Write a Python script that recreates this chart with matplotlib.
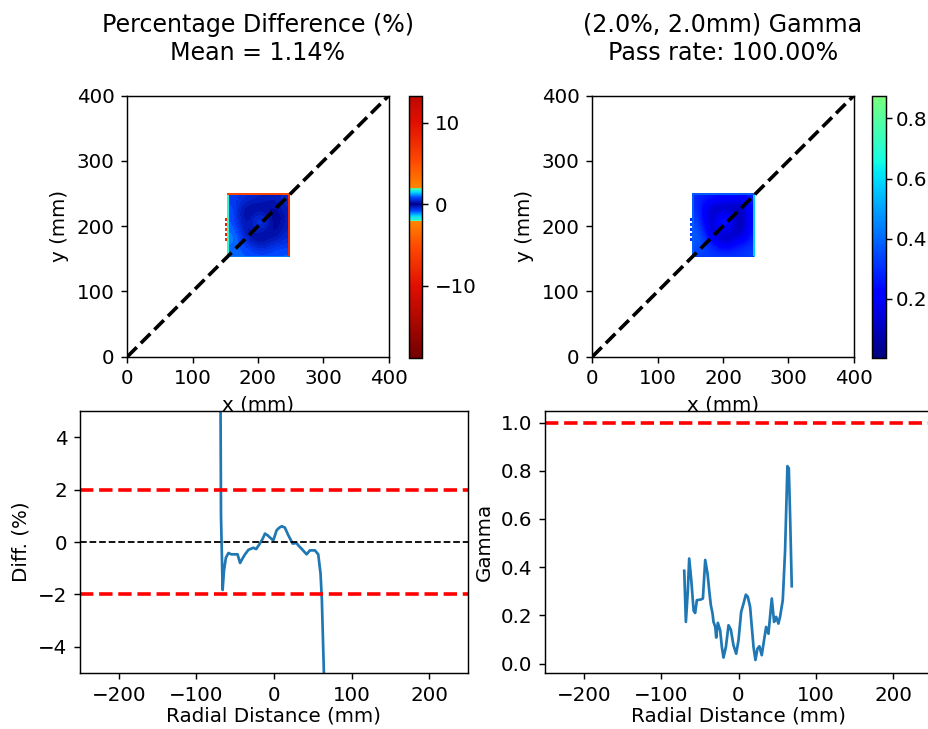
import matplotlib
matplotlib.use("Agg")
import matplotlib.pyplot as plt
import numpy as np
from matplotlib.colors import LinearSegmentedColormap

plt.rcParams["font.size"] = 11

# summary numbers
mean_diff = 1.14
pass_rate = 100.00
dose_crit, dist_crit = 2.0, 2.0
diff_tol = 2.0

# percentage difference map (inside of the field, rows top -> bottom)
diff_grid = [
    [0.7, 0.6, 0.5, 0.4, 0.4, 0.3, 0.3, 0.5],
    [0.8, 0.4, 0.2, 0.1, 0.1, 0.1, 0.2, 0.4],
    [0.9, 0.3, 0.1, 0.3, 0.4, 0.1, 0.0, 0.3],
    [0.9, 0.4, 0.2, 0.6, 0.7, 0.2, 0.0, 0.3],
    [1.0, 0.6, 0.1, 0.4, 0.3, 0.1, 0.1, 0.4],
    [1.1, 0.8, 0.3, 0.1, 0.1, 0.2, 0.3, 0.5],
    [1.0, 0.9, 0.7, 0.4, 0.3, 0.5, 0.6, 0.7],
    [0.9, 0.9, 0.9, 0.8, 0.8, 0.8, 0.9, 0.9],
]
diff_edges = {"top": 5.5, "right": 7.5, "left": 1.8, "bottom": 1.1}
diff_left_dots = [8, np.nan, 9, np.nan, 7, np.nan, 9, np.nan, 8]
diff_range = (-18.8, 13.3)

# gamma map (rows top -> bottom)
gamma_grid = [
    [0.29, 0.27, 0.25, 0.23, 0.23, 0.21, 0.21, 0.27],
    [0.30, 0.20, 0.13, 0.10, 0.10, 0.10, 0.12, 0.25],
    [0.32, 0.18, 0.10, 0.18, 0.21, 0.10, 0.09, 0.23],
    [0.34, 0.21, 0.12, 0.28, 0.29, 0.12, 0.09, 0.23],
    [0.36, 0.26, 0.10, 0.21, 0.18, 0.10, 0.10, 0.25],
    [0.38, 0.31, 0.18, 0.10, 0.10, 0.14, 0.18, 0.27],
    [0.36, 0.33, 0.28, 0.21, 0.18, 0.25, 0.27, 0.30],
    [0.33, 0.33, 0.31, 0.30, 0.30, 0.30, 0.31, 0.33],
]
gamma_edges = {"top": 0.38, "right": 0.58, "left": 0.38, "bottom": 0.32}
gamma_left_dots = [0.3, np.nan, 0.35, np.nan, 0.3, np.nan, 0.32, np.nan, 0.3]
gamma_range = (0.005, 0.875)

# diagonal profiles
diff_x = [-69.5, -69.0, -68.3, -66.2, -64.5, -62, -58.7, -55, -52.3, -47, -43.7, -40,
          -37.3, -33, -29, -26.6, -23, -18.9, -15, -11.6, -8, -6, -0.9, 3.4, 7, 9.9,
          14, 18.4, 24, 29, 32, 35.6, 42, 46.3, 52.7, 57, 60, 61.7, 64.3, 65.5]
diff_y = [25, 6, 1.0, -1.83, -1.1, -0.6, -0.42, -0.47, -0.47, -0.47, -0.8, -0.6,
          -0.47, -0.3, -0.25, -0.22, -0.27, -0.09, 0.1, 0.32, 0.25, 0.19, 0.06, 0.45, 0.55, 0.6,
          0.55, 0.26, -0.06, -0.04, -0.15, -0.26, -0.47, -0.32, -0.32, -0.47, -1.21, -2.23, -5.0, -20]

gamma_x = [-70.1, -68, -65.5, -63.7, -61, -58, -56, -53.8, -48.6, -46, -43, -40, -37.4,
           -35.7, -33.5, -32.3, -30, -28.8, -26.7, -23.7, -21.5, -19.4, -16.3, -12.9, -9.9,
           -6.5, -3, 0, 3.4, 6.5, 9.5, 12, 15, 17.2, 19.4, 21.9, 24.5, 27, 30, 33, 35.7,
           38.7, 43, 46, 48.6, 51.6, 53.8, 57.2, 60.2, 63.2, 65, 66.7, 68.8]
gamma_y = [0.385, 0.173, 0.30, 0.436, 0.346, 0.22, 0.21, 0.263, 0.266, 0.27, 0.43, 0.373, 0.29,
           0.242, 0.207, 0.173, 0.152, 0.108, 0.169, 0.138, 0.069, 0.025, 0.069, 0.159, 0.141,
           0.076, 0.041, 0.097, 0.214, 0.249, 0.286, 0.277, 0.235, 0.152, 0.069, 0.015, 0.062,
           0.072, 0.035, 0.097, 0.152, 0.124, 0.27, 0.173, 0.194, 0.166, 0.196, 0.263, 0.47,
           0.819, 0.81, 0.609, 0.321]


def diff_cmap():
    lo, hi = diff_range
    nodes = [(-18.8, (0.45, 0.0, 0.0)), (-10, (0.88, 0.06, 0.0)), (-5, (1.0, 0.3, 0.0)),
             (-2.05, (1.0, 0.52, 0.0)), (-1.95, (0.25, 1.0, 0.75)), (-1.5, (0.0, 0.85, 1.0)),
             (-0.8, (0.0, 0.25, 1.0)), (0, (0.0, 0.0, 0.55)), (0.8, (0.0, 0.25, 1.0)),
             (1.5, (0.0, 0.85, 1.0)), (1.95, (0.25, 1.0, 0.75)), (2.05, (1.0, 0.52, 0.0)),
             (5, (1.0, 0.3, 0.0)), (10, (0.88, 0.06, 0.0)), (13.3, (0.75, 0.03, 0.0))]
    return LinearSegmentedColormap.from_list(
        "diff", [((v - lo) / (hi - lo), c) for v, c in nodes])


gamma_cmap = LinearSegmentedColormap.from_list(
    "gamma_jet", plt.cm.jet(np.linspace(0, 0.5, 256)))


def draw_map(ax, grid, edges, dots, cmap, vrange):
    lo, hi = vrange
    kw = dict(cmap=cmap, vmin=lo, vmax=hi, origin="upper")
    im = ax.imshow(np.array(grid), extent=[155, 246.5, 153, 247.5],
                   interpolation="bicubic", **kw)
    ax.imshow([[edges["top"]]], extent=[152.5, 249.5, 247.5, 250.5], **kw)
    ax.imshow([[edges["right"]]], extent=[246.5, 249.5, 153, 247.5], **kw)
    ax.imshow([[edges["left"]]], extent=[152.5, 155, 153, 247.5], **kw)
    ax.imshow([[edges["bottom"]]], extent=[155, 246.5, 153, 154.5], **kw)
    ax.imshow(np.array(dots)[:, None], extent=[149.5, 151.5, 178, 212],
              interpolation="nearest", **kw)
    ax.plot([0, 400], [0, 400], "k--", lw=2)
    ax.set_xlim(0, 400)
    ax.set_ylim(0, 400)
    ax.set_aspect("auto")
    ax.set_xlabel("x (mm)")
    ax.set_ylabel("y (mm)")
    return im


W, H = 928, 729
dpi = 130
fig = plt.figure(figsize=(W / dpi, H / dpi), dpi=dpi)


def px_axes(x0, y0, x1, y1):
    return fig.add_axes([x0 / W, 1 - y1 / H, (x1 - x0) / W, (y1 - y0) / H])


ax1 = px_axes(127.3, 95.7, 388.7, 356.7)
cax1 = px_axes(409.3, 95.7, 422.0, 357.7)
ax2 = px_axes(592.3, 95.7, 853.7, 356.7)
cax2 = px_axes(872.0, 95.7, 886.0, 357.7)
ax3 = px_axes(80, 411, 468, 673)
ax4 = px_axes(545, 411, 932, 673)

im1 = draw_map(ax1, diff_grid, diff_edges, diff_left_dots, diff_cmap(), diff_range)
ax1.set_title("Percentage Difference (%%)\nMean = %.2f%%" % mean_diff, pad=20)
cb1 = fig.colorbar(im1, cax=cax1)
cb1.set_ticks([-10, 0, 10])

im2 = draw_map(ax2, gamma_grid, gamma_edges, gamma_left_dots, gamma_cmap, gamma_range)
ax2.set_title("(%.1f%%, %.1fmm) Gamma\nPass rate: %.2f%%" % (dose_crit, dist_crit, pass_rate),
              pad=20)
cb2 = fig.colorbar(im2, cax=cax2)
cb2.set_ticks([0.2, 0.4, 0.6, 0.8])
cb2.ax.tick_params(pad=2)

ax3.plot(diff_x, diff_y, color="C0")
ax3.axhline(diff_tol, color="r", ls="--", lw=2)
ax3.axhline(-diff_tol, color="r", ls="--", lw=2)
ax3.axhline(0, color="k", ls="--", lw=1)
ax3.set_xlim(-250, 250)
ax3.set_ylim(-5, 5)
ax3.set_yticks([-4, -2, 0, 2, 4])
ax3.set_xlabel("Radial Distance (mm)", labelpad=1)
ax3.set_ylabel("Diff. (%)")

ax4.plot(gamma_x, gamma_y, color="C0")
ax4.axhline(1.0, color="r", ls="--", lw=2)
ax4.set_xlim(-250, 250)
ax4.set_ylim(-0.039, 1.048)
ax4.set_xlabel("Radial Distance (mm)", labelpad=1)
ax4.set_ylabel("Gamma")

fig.savefig("out.png", dpi=dpi)
